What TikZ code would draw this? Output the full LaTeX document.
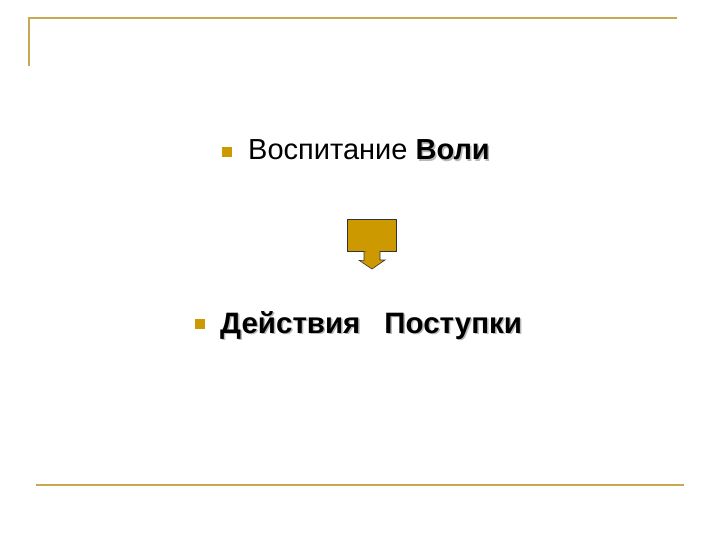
\documentclass[tikz,border=0pt]{standalone}
\usepackage{fontspec}
\setmainfont{Liberation Sans}
\definecolor{gold}{HTML}{CC9900}
\definecolor{rule}{HTML}{C8A850}
\newcommand{\shadtxt}[1]{\rlap{\hspace{1.5pt}\raisebox{-1.5pt}{\textcolor{gray!55}{#1}}}#1}
\begin{document}
\begin{tikzpicture}[x=1pt,y=-1pt,
  rulel/.style={draw=rule,line width=2pt},
  bul/.style={fill=gold,minimum size=10pt,inner sep=0pt},
  txt/.style={anchor=base west,inner sep=0pt}]
\useasboundingbox[fill=white] (0,0) rectangle (720,540);
\coordinate (tl) at (29,18);
\coordinate (tr) at (677,18);
\coordinate (vl) at (29,66);
\coordinate (bl) at (36,485);
\coordinate (br) at (684,485);
\draw[rulel] (vl) -- (tl) -- (tr);
\draw[rulel] (bl) -- (br);
% first bullet
\node[bul] (b1) at (227,152) {};
\node[txt,font=\fontsize{29}{33}\selectfont] (t1) at (248,160) {Воспитание \textbf{\shadtxt{Воли}}};
% arrow callout
\node[draw=black!80,fill=gold,line width=0.6pt,minimum width=49pt,minimum height=32pt,inner sep=0pt] (box) at (372,235) {};
\draw[draw=black!80,fill=gold,line width=0.6pt] (box.south) ++(-8,0) -- ++(0,9) -- ++(-5,0) -- (372,269) -- (385,260) -- ++(-5,0) -- ++(0,-9);
% second bullet
\node[bul] (b2) at (200,324) {};
\node[txt,font=\fontsize{29.5}{33}\selectfont\bfseries] (t2) at (220,333) {\shadtxt{Действия\hspace{24pt}Поступки}};
\end{tikzpicture}
\end{document}
